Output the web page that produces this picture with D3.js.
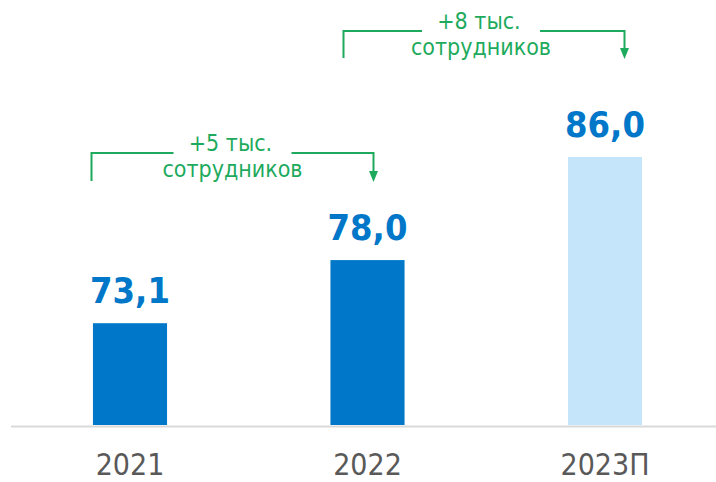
<!DOCTYPE html>
<html>
<head>
<meta charset="utf-8">
<script src="https://cdn.jsdelivr.net/npm/d3@7"></script>
<style>
  html, body { margin: 0; padding: 0; background: #fff; }
  svg { display: block; }
</style>
</head>
<body>
<svg id="chart" width="716" height="482"></svg>
<script>
// Headcount by year, thousand employees
const categories = ["2021", "2022", "2023П"];
const values = [73.1, 78.0, 86.0];
const forecast = [false, false, true];

// Year-over-year change callouts
const changeFrom = ["2021", "2022"];
const changeTo = ["2022", "2023П"];
const changeLine1 = ["+5 тыс.", "+8 тыс."];
const changeLine2 = ["сотрудников", "сотрудников"];

const W = 716, H = 482;
const baseY = 425;
const svg = d3.select("#chart");

const ru = d3.formatLocale({ decimal: ",", thousands: " ", grouping: [3], currency: ["", " ₽"] });
const fmt = ru.format(".1f");

const x = d3.scaleBand()
  .domain(categories)
  .range([11.25, 723.75])
  .paddingInner(0.688)
  .paddingOuter(0.344);

const y = d3.scaleLinear()
  .domain([65.2, 86])
  .range([baseY, 157]);

const cx = d => x(d) + x.bandwidth() / 2;

// Baseline
svg.append("line")
  .attr("x1", 11).attr("x2", W)
  .attr("y1", baseY + 1.5).attr("y2", baseY + 1.5)
  .attr("stroke", "#d9d9d9").attr("stroke-width", 2);

// Bars
svg.append("g").selectAll("rect")
  .data(categories)
  .join("rect")
  .attr("x", d => x(d))
  .attr("width", x.bandwidth())
  .attr("y", (d, i) => y(values[i]))
  .attr("height", (d, i) => baseY - y(values[i]))
  .attr("fill", (d, i) => forecast[i] ? "#c5e5fb" : "#0077c8");

// Value labels
svg.append("g").selectAll("text")
  .data(categories)
  .join("text")
  .attr("x", d => cx(d))
  .attr("y", (d, i) => y(values[i]) - 20)
  .attr("text-anchor", "middle")
  .attr("font-family", "'DejaVu Sans Condensed', 'DejaVu Sans', sans-serif")
  .attr("font-weight", "bold")
  .attr("font-size", 36)
  .attr("fill", "#0077c8")
  .text((d, i) => fmt(values[i]));

// Category axis
const xAxis = d3.axisBottom(x).tickSize(0).tickPadding(0);
const ax = svg.append("g")
  .attr("transform", `translate(0, ${baseY})`)
  .call(xAxis);
ax.select(".domain").remove();
ax.selectAll("text")
  .attr("dy", null)
  .attr("y", 50)
  .attr("font-family", "'DejaVu Sans Condensed', 'DejaVu Sans', sans-serif")
  .attr("font-size", 30)
  .attr("fill", "#595959");

// Change callouts: bracket from one bar to the next with an arrow
const green = "#1daa5c";
const bracketLayout = [
  { dl: -38.5, dr: 6, yh: 153, yb: 181, dt: 0 },
  { dl: -24, dr: 19.5, yh: 31, yb: 58, dt: -3 }
];
const gap = 118;

changeFrom.forEach((from, i) => {
  const L = bracketLayout[i];
  const xl = cx(from) + L.dl;
  const xr = cx(changeTo[i]) + L.dr;
  const mid = (xl + xr) / 2 + L.dt;
  const g = svg.append("g");
  g.append("path")
    .attr("d", `M${xl},${L.yb}V${L.yh}H${mid - gap / 2}`)
    .attr("fill", "none").attr("stroke", green).attr("stroke-width", 2);
  g.append("path")
    .attr("d", `M${mid + gap / 2},${L.yh}H${xr}V${L.yb - 9}`)
    .attr("fill", "none").attr("stroke", green).attr("stroke-width", 2);
  g.append("path")
    .attr("d", `M${xr - 4.5},${L.yb - 10}L${xr + 4.5},${L.yb - 10}L${xr},${L.yb + 1}Z`)
    .attr("fill", green);
  const t = g.append("text")
    .attr("text-anchor", "middle")
    .attr("font-family", "'DejaVu Sans Condensed', 'DejaVu Sans', sans-serif")
    .attr("font-size", 23)
    .attr("fill", green);
  t.append("tspan").attr("x", mid - 2).attr("y", L.yh - 2).text(changeLine1[i]);
  t.append("tspan").attr("x", mid).attr("y", L.yh + 23.5).text(changeLine2[i]);
});
</script>
</body>
</html>
